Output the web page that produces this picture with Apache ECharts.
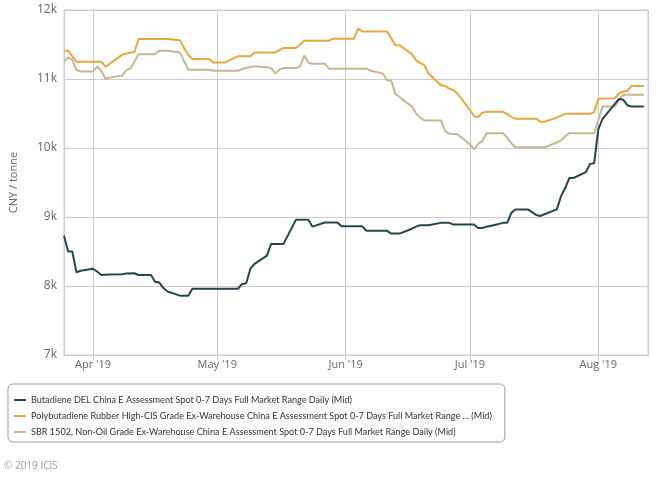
<!DOCTYPE html>
<html>
<head>
<meta charset="utf-8">
<script src="https://cdn.jsdelivr.net/npm/echarts@6/dist/echarts.min.js"></script>
<style>
html,body{margin:0;padding:0;background:#fff;}
#chart{width:668px;height:478px;}
</style>
</head>
<body>
<div id="chart"></div>
<script>
// ---- Data ----
const seriesNames = [
  "Butadiene DEL China E Assessment Spot 0-7 Days Full Market Range Daily (Mid)",
  "Polybutadiene Rubber High-CIS Grade Ex-Warehouse China E Assessment Spot 0-7 Days Full Market Range ... (Mid)",
  "SBR 1502, Non-Oil Grade Ex-Warehouse China E Assessment Spot 0-7 Days Full Market Range Daily (Mid)"
];

const butadieneDates = ["2019-03-25","2019-03-26","2019-03-27","2019-03-28","2019-03-29","2019-04-01","2019-04-02","2019-04-03","2019-04-05","2019-04-08","2019-04-09","2019-04-11","2019-04-12","2019-04-15","2019-04-16","2019-04-17","2019-04-18","2019-04-19","2019-04-22","2019-04-24","2019-04-25","2019-05-06","2019-05-07","2019-05-08","2019-05-09","2019-05-10","2019-05-13","2019-05-14","2019-05-17","2019-05-20","2019-05-23","2019-05-24","2019-05-27","2019-05-30","2019-05-31","2019-06-05","2019-06-06","2019-06-11","2019-06-12","2019-06-14","2019-06-17","2019-06-18","2019-06-19","2019-06-21","2019-06-24","2019-06-26","2019-06-27","2019-07-02","2019-07-03","2019-07-04","2019-07-05","2019-07-08","2019-07-09","2019-07-10","2019-07-11","2019-07-12","2019-07-15","2019-07-16","2019-07-17","2019-07-18","2019-07-19","2019-07-22","2019-07-23","2019-07-24","2019-07-25","2019-07-26","2019-07-29","2019-07-30","2019-07-31","2019-08-01","2019-08-02","2019-08-05","2019-08-06","2019-08-07","2019-08-08","2019-08-09","2019-08-12"];
const butadieneValues = [8730,8500,8500,8200,8220,8250,8210,8160,8165,8170,8180,8185,8160,8160,8060,8050,7970,7920,7860,7860,7960,7960,8030,8040,8250,8320,8440,8610,8610,8960,8960,8860,8920,8920,8865,8865,8800,8800,8760,8760,8830,8860,8880,8880,8915,8915,8890,8890,8840,8840,8860,8900,8915,8915,9060,9110,9110,9070,9030,9015,9040,9110,9300,9420,9565,9565,9650,9770,9780,10270,10420,10640,10710,10700,10620,10600,10600];

const polyDates = ["2019-03-25","2019-03-26","2019-03-27","2019-03-28","2019-04-03","2019-04-04","2019-04-05","2019-04-08","2019-04-09","2019-04-10","2019-04-11","2019-04-12","2019-04-19","2019-04-22","2019-04-23","2019-04-24","2019-04-25","2019-04-29","2019-04-30","2019-05-03","2019-05-06","2019-05-09","2019-05-10","2019-05-15","2019-05-16","2019-05-17","2019-05-20","2019-05-21","2019-05-22","2019-05-28","2019-05-29","2019-06-03","2019-06-04","2019-06-05","2019-06-11","2019-06-12","2019-06-13","2019-06-14","2019-06-17","2019-06-18","2019-06-19","2019-06-20","2019-06-21","2019-06-24","2019-06-25","2019-06-26","2019-06-27","2019-06-28","2019-07-01","2019-07-02","2019-07-03","2019-07-04","2019-07-05","2019-07-09","2019-07-10","2019-07-11","2019-07-12","2019-07-17","2019-07-18","2019-07-19","2019-07-22","2019-07-23","2019-07-24","2019-07-30","2019-07-31","2019-08-01","2019-08-05","2019-08-06","2019-08-07","2019-08-08","2019-08-09","2019-08-12"];
const polyValues = [11410,11410,11330,11250,11250,11180,11220,11350,11370,11380,11390,11580,11580,11560,11450,11350,11290,11290,11240,11240,11330,11330,11385,11385,11420,11450,11450,11500,11555,11555,11585,11585,11730,11690,11690,11590,11490,11490,11360,11270,11230,11200,11080,10910,10900,10860,10840,10790,10550,10460,10450,10510,10525,10525,10490,10450,10425,10425,10380,10380,10440,10470,10495,10495,10520,10715,10720,10790,10820,10830,10900,10900];

const sbrDates = ["2019-03-25","2019-03-26","2019-03-27","2019-03-28","2019-03-29","2019-04-01","2019-04-02","2019-04-03","2019-04-04","2019-04-05","2019-04-08","2019-04-09","2019-04-10","2019-04-11","2019-04-12","2019-04-16","2019-04-17","2019-04-19","2019-04-22","2019-04-23","2019-04-24","2019-04-29","2019-04-30","2019-05-06","2019-05-07","2019-05-08","2019-05-10","2019-05-13","2019-05-14","2019-05-15","2019-05-16","2019-05-17","2019-05-20","2019-05-21","2019-05-22","2019-05-23","2019-05-24","2019-05-27","2019-05-28","2019-06-06","2019-06-07","2019-06-10","2019-06-11","2019-06-12","2019-06-13","2019-06-14","2019-06-17","2019-06-18","2019-06-19","2019-06-20","2019-06-24","2019-06-25","2019-06-26","2019-06-28","2019-07-01","2019-07-02","2019-07-03","2019-07-04","2019-07-05","2019-07-09","2019-07-10","2019-07-11","2019-07-12","2019-07-19","2019-07-22","2019-07-23","2019-07-24","2019-07-25","2019-07-31","2019-08-01","2019-08-02","2019-08-05","2019-08-06","2019-08-07","2019-08-12"];
const sbrValues = [11255,11310,11280,11130,11110,11110,11180,11120,11005,11020,11050,11125,11150,11250,11360,11360,11410,11410,11385,11260,11135,11135,11120,11120,11145,11160,11185,11170,11160,11080,11135,11160,11160,11180,11340,11235,11220,11220,11150,11150,11120,11080,10980,10980,10785,10740,10600,10500,10440,10400,10400,10250,10205,10200,10050,9985,10060,10100,10215,10215,10150,10070,10010,10010,10080,10110,10170,10215,10215,10400,10600,10600,10700,10770,10770];

const yTicks = [7000, 8000, 9000, 10000, 11000, 12000];
const xMin = "2019-03-25";
const xMax = "2019-08-13";
const monthNames = ["Jan","Feb","Mar","Apr","May","Jun","Jul","Aug","Sep","Oct","Nov","Dec"];
const yAxisTitle = "CNY / tonne";
const creditText = "\u00a9 2019 ICIS";
const colors = ["#26444f", "#e9a53e", "#c8b68f"];

function pairs(d, v) { return d.map((x, i) => [x, v[i]]); }

const FONT = "'Open Sans', sans-serif";
const LEGEND_FONT = "Lato, sans-serif";
const chart = echarts.init(document.getElementById('chart'), null, {renderer: 'canvas'});
const DAY = 86400000;

chart.setOption({
  animation: false,
  color: colors,
  textStyle: {fontFamily: FONT},
  grid: {left: 59, right: 20, top: 10, bottom: 123, show: true, borderColor: '#cccccc', borderWidth: 1, containLabel: false},
  xAxis: {
    type: 'time',
    min: xMin,
    max: xMax,
    minInterval: 28 * DAY,
    maxInterval: 31 * DAY,
    axisLine: {lineStyle: {color: '#cccccc'}},
    axisTick: {show: true, length: 5, lineStyle: {color: '#cccccc'}},
    splitLine: {show: true, lineStyle: {color: '#cccccc', width: 1}},
    axisLabel: {
      color: '#666666', fontSize: 11, fontFamily: FONT, margin: 4,
      showMinLabel: false, showMaxLabel: false, hideOverlap: false,
      formatter: function (val) {
        const d = new Date(val);
        return monthNames[d.getMonth()] + " '" + String(d.getFullYear()).slice(2);
      }
    }
  },
  yAxis: {
    type: 'value',
    min: yTicks[0],
    max: yTicks[yTicks.length - 1],
    interval: 1000,
    name: yAxisTitle,
    nameLocation: 'middle',
    nameGap: 45,
    nameTextStyle: {color: '#666666', fontSize: 11, fontFamily: FONT},
    axisLine: {show: true, lineStyle: {color: '#cccccc'}},
    axisTick: {show: false},
    splitLine: {show: true, lineStyle: {color: '#cccccc', width: 1}},
    axisLabel: {
      color: '#666666', fontSize: 12, fontFamily: FONT, margin: 7,
      verticalAlign: 'middle', padding: [0, 0, 9, 0],
      formatter: function (v) { return (v / 1000) + 'k'; }
    }
  },
  legend: {
    orient: 'vertical',
    left: 8,
    top: 384,
    padding: [9, 13, 3, 6],
    itemGap: 2,
    itemWidth: 12,
    itemHeight: 2,
    icon: 'rect',
    borderColor: '#999999',
    borderWidth: 1,
    borderRadius: 5,
    textStyle: {color: '#333333', fontSize: 9.1, fontFamily: LEGEND_FONT, lineHeight: 14},
    data: seriesNames
  },
  graphic: [{
    type: 'text', left: 4, top: 461,
    style: {text: creditText, fill: '#999999', font: "10px 'Open Sans', sans-serif"}
  }],
  series: [
    {name: seriesNames[0], type: 'line', data: pairs(butadieneDates, butadieneValues), showSymbol: false, lineStyle: {width: 2, color: colors[0]}, z: 3},
    {name: seriesNames[1], type: 'line', data: pairs(polyDates, polyValues), showSymbol: false, lineStyle: {width: 2, color: colors[1]}, z: 2},
    {name: seriesNames[2], type: 'line', data: pairs(sbrDates, sbrValues), showSymbol: false, lineStyle: {width: 2, color: colors[2]}, z: 1}
  ]
});
</script>
</body>
</html>
